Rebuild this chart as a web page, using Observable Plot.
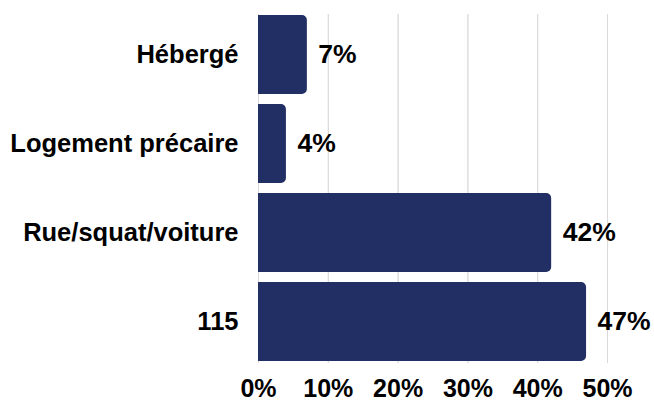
<!DOCTYPE html>
<html><head><meta charset="utf-8">
<script src="https://cdn.jsdelivr.net/npm/d3@7"></script>
<script src="https://cdn.jsdelivr.net/npm/@observablehq/plot@0.6"></script>
<style>
body{margin:0;background:#fff;}
svg{font-family:"Liberation Sans",Arial,sans-serif;font-weight:bold;}
</style></head><body>
<div id="chart"></div>
<script>
const categories = ["Hébergé", "Logement précaire", "Rue/squat/voiture", "115"];
const values = [7, 4, 42, 47];
const tickValues = [0, 10, 20, 30, 40, 50];

const data = categories.map((c, i) => ({category: c, value: values[i]}));

const chart = Plot.plot({
  width: 654,
  height: 403,
  marginTop: 14,
  marginBottom: 40,
  marginLeft: 258,
  marginRight: 47,
  style: {fontFamily: "'Liberation Sans', Arial, sans-serif", fontWeight: "bold", color: "#000", background: "#fff"},
  x: {domain: [0, 50], ticks: tickValues, tickFormat: d => d + "%", grid: true, label: null},
  y: {domain: categories, paddingInner: 0.108, paddingOuter: 0, label: null},
  marks: [
    Plot.gridX(tickValues, {stroke: "#d9d9d9", strokeOpacity: 1, strokeWidth: 1}),
    Plot.barX(data, {x: "value", y: "category", fill: "#222f64", rx2y1: 5, rx2y2: 5}),
    Plot.text(data, {x: "value", y: "category", text: d => d.value + "%", textAnchor: "start", dx: 11, fontSize: 26.5, fontWeight: "bold", fill: "#000"}),
    Plot.axisX(tickValues, {tickSize: 0, tickPadding: 16, tickFormat: d => d + "%", fontSize: 25, fontWeight: "bold", fill: "#000", label: null}),
    Plot.axisY({tickSize: 0, tickPadding: 20, fontSize: 25.5, fontWeight: "bold", fill: "#000", label: null})
  ]
});
document.getElementById("chart").appendChild(chart);
</script>
</body></html>
